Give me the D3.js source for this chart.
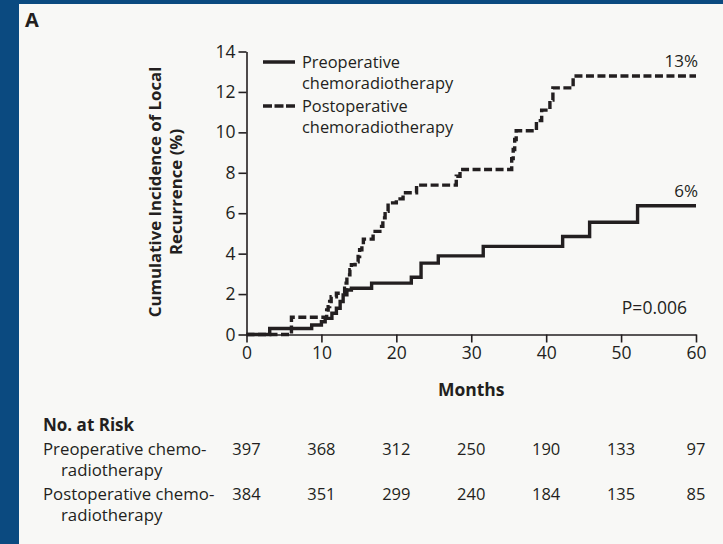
<!DOCTYPE html>
<html>
<head>
<meta charset="utf-8">
<script src="https://cdn.jsdelivr.net/npm/d3@7"></script>
<style>
  html, body { margin: 0; padding: 0; background: #0b4a80; }
  svg { display: block; }
  text { font-family: "Open Sans", sans-serif; fill: #231f20; }
</style>
</head>
<body>
<svg id="chart" width="723" height="544"></svg>
<script>
// Cumulative incidence of local recurrence (%), step points: month of step, value after step
const preMonths = [0, 3.1, 8.7, 10.0, 10.5, 11.4, 12.0, 12.5, 12.9, 13.4, 14.0, 16.7, 22.0, 23.3, 25.6, 31.6, 42.2, 45.8, 52.2, 60];
const preIncidence = [0, 0.3, 0.47, 0.63, 0.8, 1.05, 1.3, 1.63, 1.96, 2.2, 2.29, 2.54, 2.83, 3.53, 3.89, 4.36, 4.85, 5.55, 6.37, 6.37];

const postMonths = [0, 6.0, 10.7, 10.9, 11.1, 11.3, 12.0, 13.1, 13.3, 13.4, 13.8, 14.0, 14.5, 14.9, 15.1, 15.4, 15.6, 16.9, 17.8, 18.2, 18.5, 18.9, 20.0, 20.9, 22.7, 28.0, 28.5, 35.4, 35.6, 35.8, 36.0, 38.7, 39.4, 40.5, 40.9, 43.6, 60];
const postIncidence = [0, 0.85, 1.21, 1.38, 1.63, 1.87, 2.04, 2.29, 2.54, 2.95, 3.2, 3.45, 3.6, 3.86, 4.19, 4.44, 4.72, 5.1, 5.35, 5.77, 6.1, 6.51, 6.71, 7.01, 7.39, 7.83, 8.16, 8.7, 9.15, 9.65, 10.08, 10.58, 11.1, 11.6, 12.2, 12.79, 12.79];

const xTicks = [0, 10, 20, 30, 40, 50, 60];
const yTicks = [0, 2, 4, 6, 8, 10, 12, 14];

const seriesNames = [["Preoperative", "chemoradiotherapy"], ["Postoperative", "chemoradiotherapy"]];
const endLabels = ["6%", "13%"];
const pValue = "P=0.006";

const riskLabels = [["Preoperative chemo-", "radiotherapy"], ["Postoperative chemo-", "radiotherapy"]];
const riskPre = [397, 368, 312, 250, 190, 133, 97];
const riskPost = [384, 351, 299, 240, 184, 135, 85];

const svg = d3.select("#chart");

// light panel
svg.append("rect").attr("x", 19).attr("y", 4).attr("width", 704).attr("height", 540).attr("fill", "#f8f8f6");

svg.append("text").attr("x", 25).attr("y", 27).attr("font-size", 20).attr("font-weight", 700).text("A");

const x = d3.scaleLinear().domain([0, 60]).range([246.5, 696]);
const y = d3.scaleLinear().domain([0, 14]).range([334.5, 51.5]);

const ink = "#231f20";

// axes
const gx = svg.append("g").attr("transform", `translate(0,${y(0)})`)
  .call(d3.axisBottom(x).tickValues(xTicks).tickSize(8).tickPadding(4).tickSizeOuter(0));
const gy = svg.append("g").attr("transform", `translate(${x(0)},0)`)
  .call(d3.axisLeft(y).tickValues(yTicks).tickSize(8).tickPadding(3).tickSizeOuter(0));
[gx, gy].forEach(g => {
  g.attr("font-size", 17.5).attr("font-family", "Open Sans, sans-serif");
  g.select(".domain").attr("stroke", ink).attr("stroke-width", 1.6);
  g.selectAll(".tick line").attr("stroke", ink).attr("stroke-width", 1.6);
  g.selectAll(".tick text").attr("fill", ink);
});

svg.append("text").attr("x", x(30)).attr("y", 396).attr("text-anchor", "middle")
  .attr("font-size", 17.5).attr("font-weight", 700).text("Months");

const yl = svg.append("text").attr("transform", `translate(166,192) rotate(-90)`)
  .attr("text-anchor", "middle").attr("font-size", 16.8).attr("font-weight", 700);
yl.append("tspan").attr("x", 0).attr("dy", "-0.3em").text("Cumulative Incidence of Local");
yl.append("tspan").attr("x", 0).attr("dy", "1.28em").text("Recurrence (%)");

// curves
const line = d3.line().x(d => x(d[0])).y(d => y(d[1])).curve(d3.curveStepAfter);
const preData = preMonths.map((m, i) => [m, preIncidence[i]]);
const postData = postMonths.map((m, i) => [m, postIncidence[i]]);

svg.append("path").datum(postData).attr("d", line).attr("fill", "none")
  .attr("stroke", ink).attr("stroke-width", 3.4).attr("stroke-dasharray", "8,3.5");
svg.append("path").datum(preData).attr("d", line).attr("fill", "none")
  .attr("stroke", ink).attr("stroke-width", 3.4);

// end labels
svg.append("text").attr("x", 698).attr("y", y(preIncidence[preIncidence.length - 1]) - 9)
  .attr("text-anchor", "end").attr("font-size", 17).text(endLabels[0]);
svg.append("text").attr("x", 698).attr("y", y(postIncidence[postIncidence.length - 1]) - 9)
  .attr("text-anchor", "end").attr("font-size", 17).text(endLabels[1]);

svg.append("text").attr("x", 687).attr("y", 314).attr("text-anchor", "end").attr("font-size", 17.5).text(pValue);

// legend
const legendY = [62, 106];
seriesNames.forEach((lines, i) => {
  svg.append("line").attr("x1", 263).attr("x2", 295).attr("y1", legendY[i]).attr("y2", legendY[i])
    .attr("stroke", ink).attr("stroke-width", 3.5)
    .attr("stroke-dasharray", i === 1 ? "9,2.5" : null);
  lines.forEach((t, j) => {
    svg.append("text").attr("x", 302).attr("y", legendY[i] + 6 + j * 21).attr("font-size", 16.4).text(t);
  });
});

// number at risk
svg.append("text").attr("x", 43).attr("y", 431).attr("font-size", 17).attr("font-weight", 700).text("No. at Risk");
const riskRows = [riskPre, riskPost];
const rowY = [455, 500];
riskLabels.forEach((lines, i) => {
  svg.append("text").attr("x", 43).attr("y", rowY[i]).attr("font-size", 16.8).text(lines[0]);
  svg.append("text").attr("x", 61).attr("y", rowY[i] + 21).attr("font-size", 16.8).text(lines[1]);
  svg.selectAll(null).data(riskRows[i]).enter().append("text")
    .attr("x", (d, k) => x(xTicks[k])).attr("y", rowY[i])
    .attr("text-anchor", "middle").attr("font-size", 16.5).text(d => d);
});
</script>
</body>
</html>
